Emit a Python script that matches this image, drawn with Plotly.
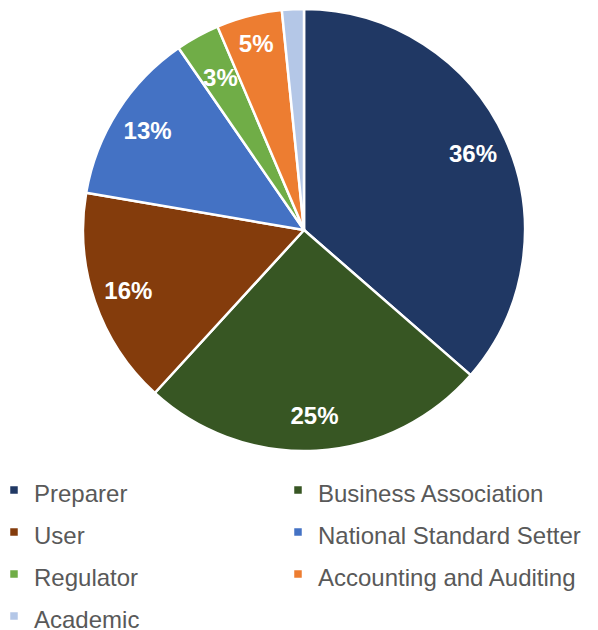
import plotly.graph_objects as go

categories = ["Preparer", "Business Association", "User", "National Standard Setter",
              "Regulator", "Accounting and Auditing", "Academic"]
values = [36.4, 25.4, 15.9, 12.7, 3.2, 4.8, 1.6]
colors = ["#203864", "#375623", "#843C0C", "#4472C4", "#70AD47", "#ED7D31", "#B4C7E7"]
# which label ring each slice's percentage goes in: "outer", "inner" or None
label_ring = ["outer", "outer", "outer", "outer", "inner", "outer", None]
# legend column of each category (two-column legend, filled row by row)
legend_col = [0, 1, 0, 1, 0, 1, 0]

# page body has an 8px margin, so the figure is drawn 8px in from the window edge
W, H = 590, 622
cx, cy = 296, 222
R = 221
B = 166  # bottom margin (legend sits below the plot area)
PH = H - B


def dom(r):
    return dict(x=[(cx - r) / W, (cx + r) / W],
                y=[(PH - cy - r) / PH, (PH - cy + r) / PH])


labels = [f"<span style='font-size:24px'>{c}</span>" for c in categories]
text_style = dict(family="Liberation Sans, Arial", size=24, color="white", weight="bold")
clear = ["rgba(0,0,0,0)"] * len(values)

fig = go.Figure()
# coloured pie (no text)
fig.add_trace(go.Pie(
    labels=labels, values=values, sort=False,
    direction="clockwise", rotation=0,
    marker=dict(colors=colors, line=dict(color="white", width=2.5)),
    textinfo="none", domain=dom(R), showlegend=False,
    hovertext=categories, hoverinfo="text+percent",
))
# transparent rings carrying the percentage labels
for ring, hole, r in [("outer", 0.68, R), ("inner", 0.0, 191)]:
    fig.add_trace(go.Pie(
        labels=labels, values=values, sort=False,
        direction="clockwise", rotation=0, hole=hole,
        marker=dict(colors=clear, line=dict(width=0)),
        texttemplate=["%{percent:.0%}" if lr == ring else "" for lr in label_ring],
        textposition="inside", insidetextorientation="horizontal",
        textfont=text_style, domain=dom(r),
        showlegend=False, hoverinfo="skip",
    ))
# legend carriers: one per legend column (tiny, invisible pies)
for col, leg in [(0, "legend"), (1, "legend2")]:
    idx = [i for i, c in enumerate(legend_col) if c == col]
    fig.add_trace(go.Pie(
        labels=[labels[i] for i in idx],
        values=[values[i] for i in idx],
        sort=False, direction="clockwise", rotation=0,
        marker=dict(colors=[colors[i] for i in idx], line=dict(color="white", width=4.5)),
        textinfo="none", hoverinfo="skip",
        domain=dict(x=[0, 0.0005], y=[0, 0.0005]),
        legend=leg, showlegend=True,
    ))

legend_font = dict(family="Liberation Sans, Arial", size=30, color="#595959")
fig.update_layout(
    width=W, height=H,
    margin=dict(l=0, r=0, t=0, b=B, autoexpand=False),
    paper_bgcolor="white",
    uniformtext=dict(minsize=24, mode="show"),
    legend=dict(x=-14 / W, xanchor="left", y=0, yanchor="top",
                font=legend_font, traceorder="normal", bgcolor="rgba(0,0,0,0)"),
    legend2=dict(x=270 / W, xanchor="left", y=0, yanchor="top",
                 font=legend_font, traceorder="normal", bgcolor="rgba(0,0,0,0)"),
)

fig.write_html("out.html")
